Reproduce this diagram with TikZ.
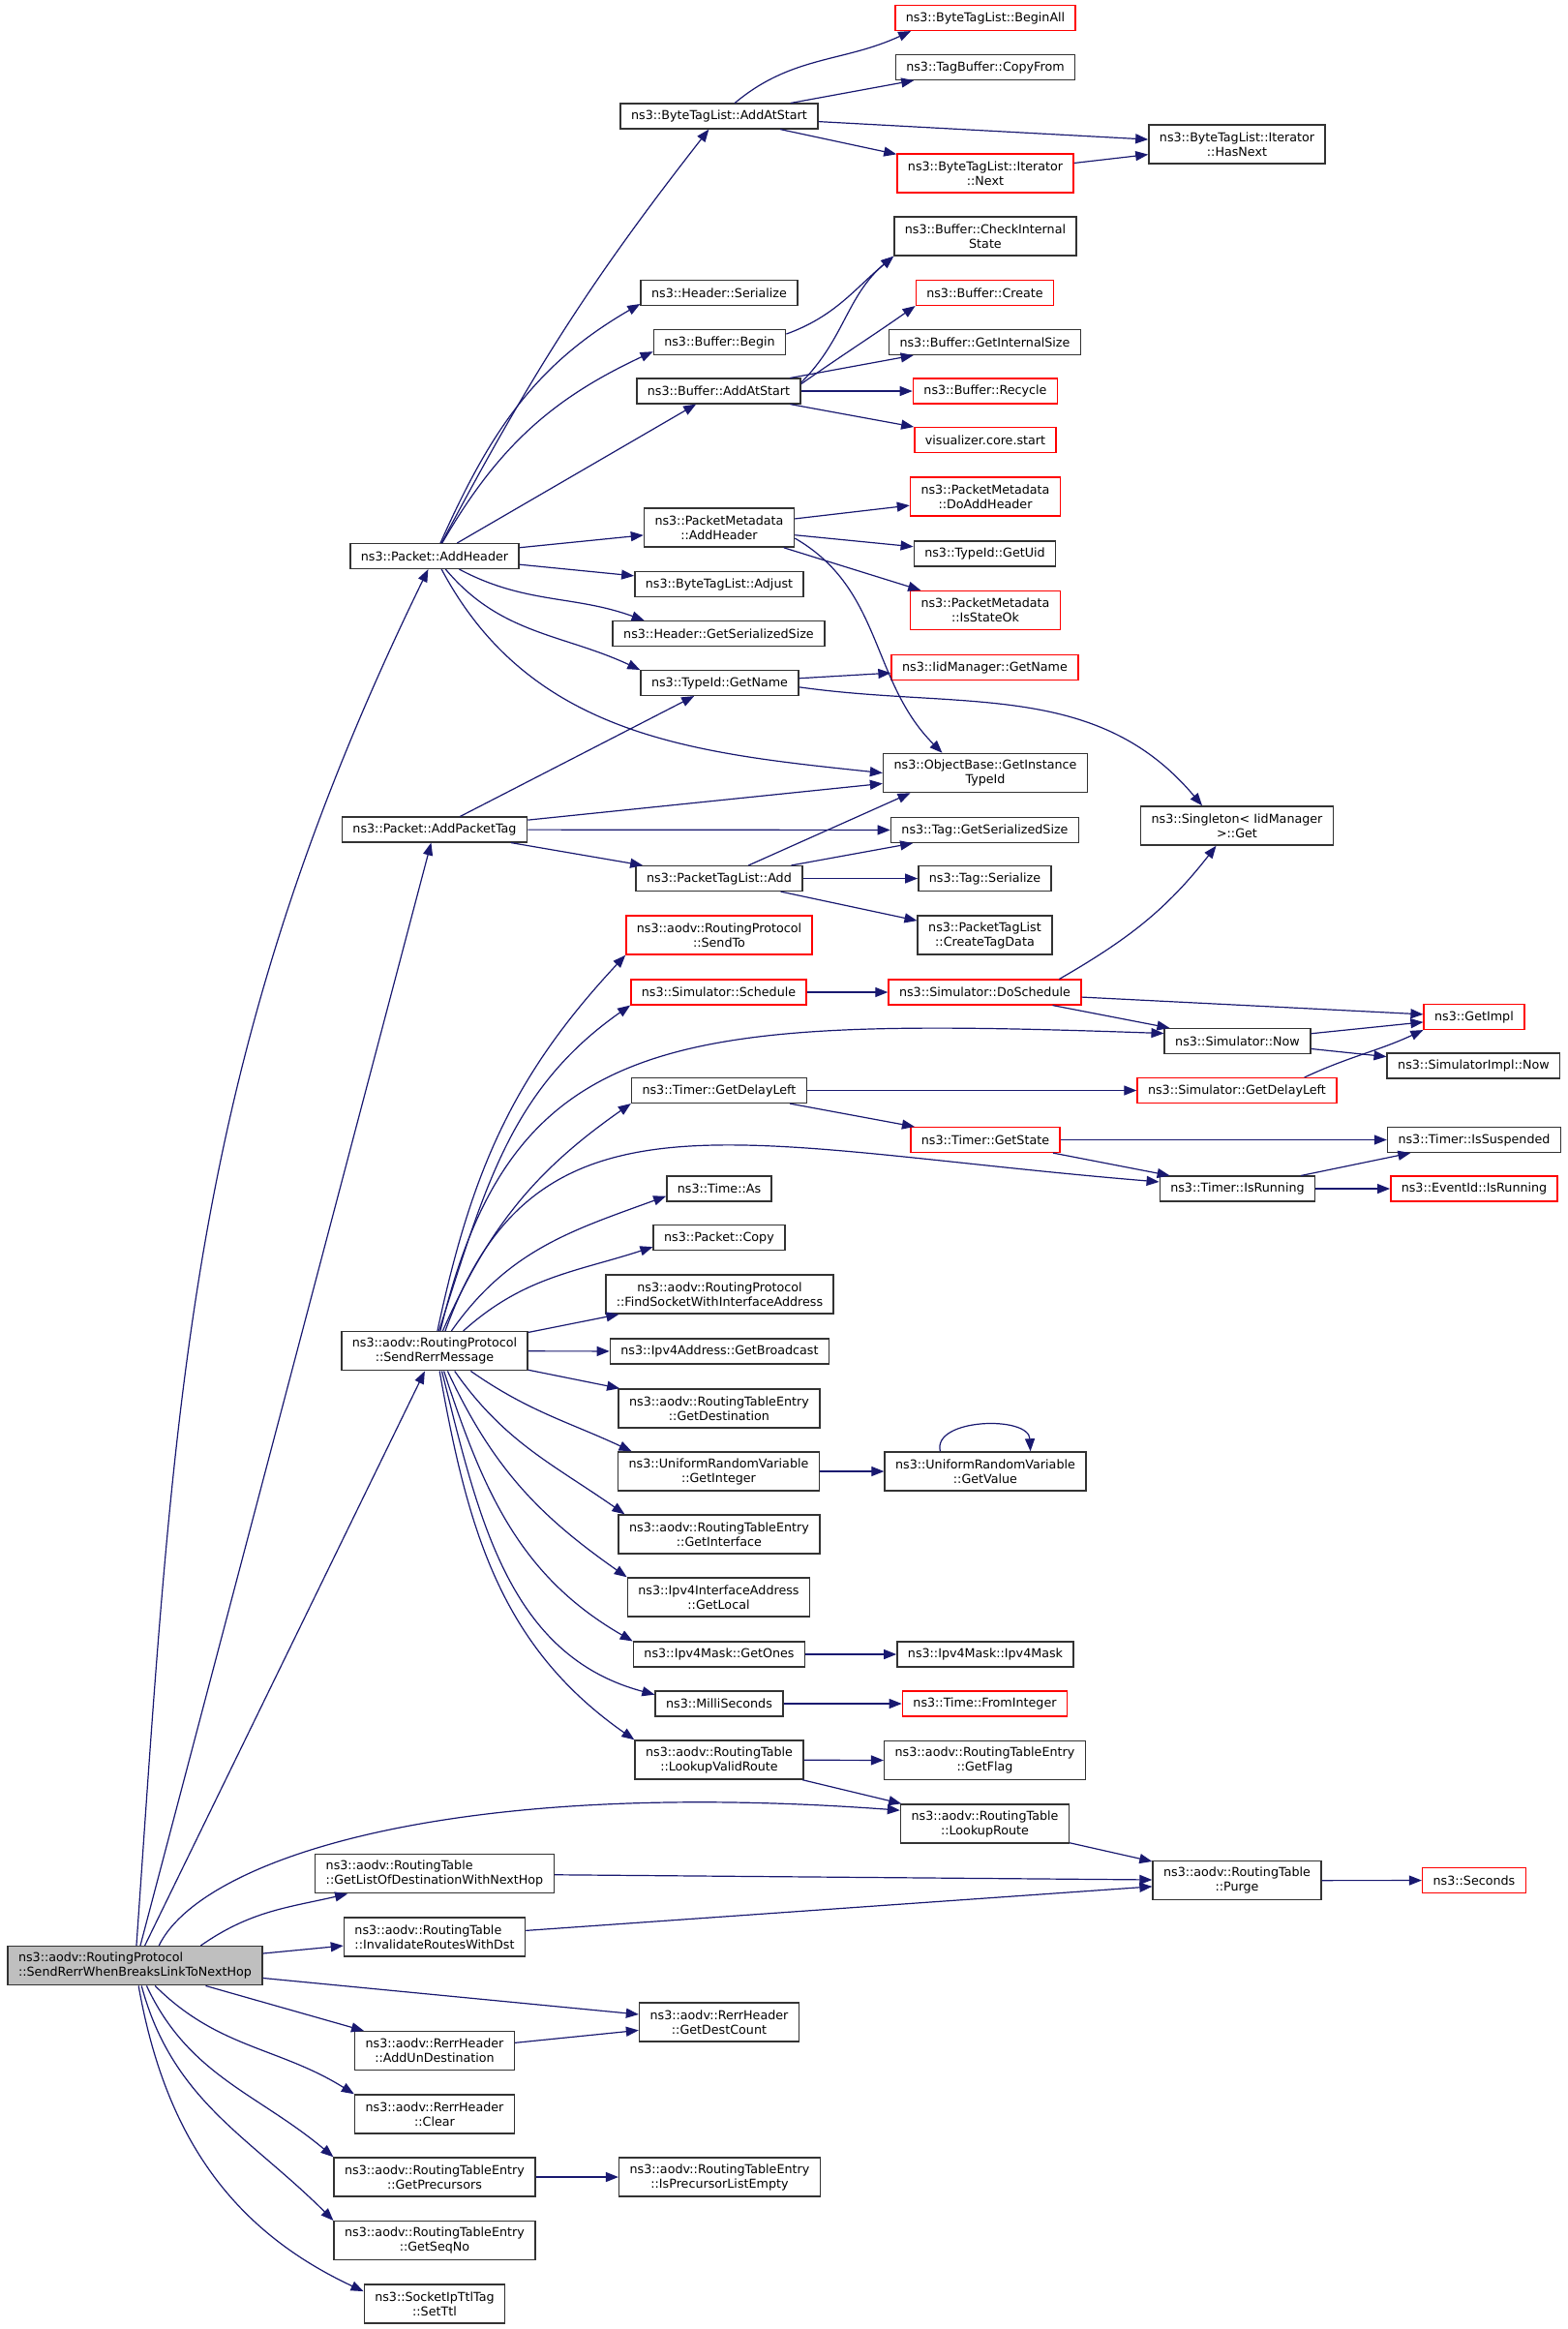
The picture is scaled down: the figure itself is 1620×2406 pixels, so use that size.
\documentclass[tikz,border=0pt]{standalone}
\usepackage{fontspec}
\setmainfont{DejaVu Sans}
\usetikzlibrary{arrows.meta}
\definecolor{edgeblue}{RGB}{25,25,112}
\definecolor{rootgray}{RGB}{191,191,191}

\begin{document}
\begin{tikzpicture}
        [x=0.1pt, y=-0.1pt,
        func/.style={rectangle, draw=black!80, fill=white, line width=0.15pt, inner xsep=1.1pt, inner ysep=0.2pt, minimum height=2.56pt, align=center, font=\fontsize{1.27}{1.5}\selectfont},
        func2/.style={func, minimum height=4pt},
        trunc/.style={draw=red},
        focus/.style={func2, fill=rootgray, align=left},
        call/.style={edgeblue, line width=0.12pt, -{Triangle[length=1.3pt, width=1pt]}}]

        \useasboundingbox (0,0) rectangle (1620,2406);

        \node[func, trunc] (beginall) at (1018,18.5) {ns3::ByteTagList::BeginAll};
        \node[func] (copyfrom) at (1018,69.5) {ns3::TagBuffer::CopyFrom};
        \node[func] (tagaddstart) at (743,120) {ns3::ByteTagList::AddAtStart};
        \node[func2] (hasnext) at (1278,149) {ns3::ByteTagList::Iterator\\::HasNext};
        \node[func2, trunc] (itnext) at (1018,179) {ns3::ByteTagList::Iterator\\::Next};
        \node[func2] (checkstate) at (1018,244) {ns3::Buffer::CheckInternal\\State};
        \node[func] (hdrser) at (743,302.5) {ns3::Header::Serialize};
        \node[func, trunc] (bufcreate) at (1017.5,302.5) {ns3::Buffer::Create};
        \node[func] (bufbegin) at (743.5,353.5) {ns3::Buffer::Begin};
        \node[func] (bufsize) at (1017.5,353.5) {ns3::Buffer::GetInternalSize};
        \node[func] (bufaddstart) at (742.5,404) {ns3::Buffer::AddAtStart};
        \node[func, trunc] (bufrecycle) at (1018,404) {ns3::Buffer::Recycle};
        \node[func, trunc] (vizstart) at (1018,454.5) {visualizer.core.start};
        \node[func2, trunc] (doaddhdr) at (1018,513) {ns3::PacketMetadata\\::DoAddHeader};
        \node[func2] (metaaddhdr) at (743,545) {ns3::PacketMetadata\\::AddHeader};
        \node[func] (addheader) at (449,574.5) {ns3::Packet::AddHeader};
        \node[func] (getuid) at (1017.5,572) {ns3::TypeId::GetUid};
        \node[func] (adjust) at (743,603.5) {ns3::ByteTagList::Adjust};
        \node[func2, trunc] (stateok) at (1018,630.5) {ns3::PacketMetadata\\::IsStateOk};
        \node[func] (hdrsize) at (742.5,654.5) {ns3::Header::GetSerializedSize};
        \node[func, trunc] (iidname) at (1017.5,689.5) {ns3::IidManager::GetName};
        \node[func] (tidname) at (743.5,705.5) {ns3::TypeId::GetName};
        \node[func2] (instid) at (1018,798.5) {ns3::ObjectBase::GetInstance\\TypeId};
        \node[func2] (singleton) at (1278,853) {ns3::Singleton< IidManager\\>::Get};
        \node[func] (addtag) at (449,857) {ns3::Packet::AddPacketTag};
        \node[func] (tagsize) at (1017.5,857.5) {ns3::Tag::GetSerializedSize};
        \node[func] (ptladd) at (743,907.5) {ns3::PacketTagList::Add};
        \node[func] (tagser) at (1017.5,907.5) {ns3::Tag::Serialize};
        \node[func2, trunc] (sendto) at (743,966) {ns3::aodv::RoutingProtocol\\::SendTo};
        \node[func2] (tagdata) at (1017.5,966) {ns3::PacketTagList\\::CreateTagData};
        \node[func, trunc] (schedule) at (742.5,1025) {ns3::Simulator::Schedule};
        \node[func, trunc] (doschedule) at (1017.5,1025) {ns3::Simulator::DoSchedule};
        \node[func, trunc] (getimpl) at (1523,1050.5) {ns3::GetImpl};
        \node[func] (simnow) at (1278.5,1075.5) {ns3::Simulator::Now};
        \node[func] (implnow) at (1522.5,1101) {ns3::SimulatorImpl::Now};
        \node[func] (tmrdelay) at (743,1126.5) {ns3::Timer::GetDelayLeft};
        \node[func, trunc] (simdelay) at (1278,1126.5) {ns3::Simulator::GetDelayLeft};
        \node[func, trunc] (tmrstate) at (1018,1177.5) {ns3::Timer::GetState};
        \node[func] (suspended) at (1523,1177.5) {ns3::Timer::IsSuspended};
        \node[func] (tmrrunning) at (1278.5,1228) {ns3::Timer::IsRunning};
        \node[func, trunc] (evrunning) at (1523,1228) {ns3::EventId::IsRunning};
        \node[func] (timeas) at (743,1228) {ns3::Time::As};
        \node[func] (pktcopy) at (743,1278.5) {ns3::Packet::Copy};
        \node[func2] (findsock) at (743.5,1337) {ns3::aodv::RoutingProtocol\\::FindSocketWithInterfaceAddress};
        \node[func2] (sendrerr) at (449,1395.7) {ns3::aodv::RoutingProtocol\\::SendRerrMessage};
        \node[func] (bcast) at (743.5,1396) {ns3::Ipv4Address::GetBroadcast};
        \node[func2] (getdest) at (743,1455) {ns3::aodv::RoutingTableEntry\\::GetDestination};
        \node[func2] (getint) at (742.5,1520) {ns3::UniformRandomVariable\\::GetInteger};
        \node[func2] (getval) at (1018,1520) {ns3::UniformRandomVariable\\::GetValue};
        \node[func2] (getiface) at (743,1585) {ns3::aodv::RoutingTableEntry\\::GetInterface};
        \node[func2] (getlocal) at (742.5,1650) {ns3::Ipv4InterfaceAddress\\::GetLocal};
        \node[func] (getones) at (743,1709) {ns3::Ipv4Mask::GetOnes};
        \node[func] (ipv4mask) at (1018,1709) {ns3::Ipv4Mask::Ipv4Mask};
        \node[func] (millis) at (743,1760) {ns3::MilliSeconds};
        \node[func, trunc] (fromint) at (1017.5,1760) {ns3::Time::FromInteger};
        \node[func2] (validroute) at (743,1818) {ns3::aodv::RoutingTable\\::LookupValidRoute};
        \node[func2] (getflag) at (1017.5,1818.7) {ns3::aodv::RoutingTableEntry\\::GetFlag};
        \node[func2] (lookup) at (1017.5,1884) {ns3::aodv::RoutingTable\\::LookupRoute};
        \node[func2, align=left] (getlist) at (449,1935.7) {ns3::aodv::RoutingTable\\::GetListOfDestinationWithNextHop};
        \node[func2] (purge) at (1278,1942.7) {ns3::aodv::RoutingTable\\::Purge};
        \node[func, trunc] (seconds) at (1523,1942.5) {ns3::Seconds};
        \node[func2, align=left] (invalidate) at (449,2001) {ns3::aodv::RoutingTable\\::InvalidateRoutesWithDst};
        \node[focus] (root) at (139.5,2030.7) {ns3::aodv::RoutingProtocol\\::SendRerrWhenBreaksLinkToNextHop};
        \node[func2] (destcount) at (743,2089) {ns3::aodv::RerrHeader\\::GetDestCount};
        \node[func2] (addundest) at (449,2118.7) {ns3::aodv::RerrHeader\\::AddUnDestination};
        \node[func2] (rerrclear) at (449,2184) {ns3::aodv::RerrHeader\\::Clear};
        \node[func2] (precursors) at (449,2249) {ns3::aodv::RoutingTableEntry\\::GetPrecursors};
        \node[func2] (precempty) at (743.5,2249) {ns3::aodv::RoutingTableEntry\\::IsPrecursorListEmpty};
        \node[func2] (seqno) at (449,2314.7) {ns3::aodv::RoutingTableEntry\\::GetSeqNo};
        \node[func2] (setttl) at (449,2380) {ns3::SocketIpTtlTag\\::SetTtl};

        % calls from the root function
        \draw[call] (root) to[out=86, in=244] (addheader);
        \draw[call] (root) -- (addtag);
        \draw[call] (root) -- (sendrerr);
        \draw[call] (root.40) .. controls (205,1925) and (450,1835) .. (lookup.171);
        \draw[call] (root.17) to[out=35, in=193] (getlist);
        \draw[call] (root) -- (invalidate);
        \draw[call] (root) -- (destcount);
        \draw[call] (root) -- (addundest);
        \draw[call] (root.-45) to[out=-45, in=148] (rerrclear.north west);
        \draw[call] (root.-60) to[out=-65, in=140] (precursors.north west);
        \draw[call] (root.-72) to[out=-75, in=135] (seqno.north west);
        \draw[call] (root.-80) to[out=-80, in=155] (setttl.170);

        % Packet::AddHeader
        \draw[call] (addheader) to[out=62, in=232] (tagaddstart);
        \draw[call] (addheader) to[out=66, in=210] (hdrser.188);
        \draw[call] (addheader) to[out=60, in=205] (bufbegin.188);
        \draw[call] (addheader) -- (bufaddstart);
        \draw[call] (addheader) -- (metaaddhdr);
        \draw[call] (addheader) -- (adjust);
        \draw[call] (addheader) to[out=-28, in=160] (hdrsize.170);
        \draw[call] (addheader) to[out=-50, in=155] (tidname.north west);
        \draw[call] (addheader) to[out=-62, in=174] (instid.west);

        \draw[call] (tagaddstart) to[out=40, in=205] (beginall.190);
        \draw[call] (tagaddstart) -- (copyfrom);
        \draw[call] (tagaddstart) -- (hasnext);
        \draw[call] (tagaddstart) -- (itnext);
        \draw[call] (itnext) -- (hasnext);

        \draw[call] (bufbegin.7) to[out=20, in=220] (checkstate.south west);
        \draw[call] (bufaddstart.6) to[out=45, in=220] (checkstate.south west);
        \draw[call] (bufaddstart.5) to[out=35, in=215] (bufcreate.south west);
        \draw[call] (bufaddstart) -- (bufsize);
        \draw[call] (bufaddstart) -- (bufrecycle);
        \draw[call] (bufaddstart) -- (vizstart);

        \draw[call] (metaaddhdr) -- (doaddhdr);
        \draw[call] (metaaddhdr) -- (getuid);
        \draw[call] (metaaddhdr) -- (stateok);
        \draw[call] (metaaddhdr.-8) to[out=-30, in=135] (instid.155);

        \draw[call] (tidname) -- (iidname);
        \draw[call] (tidname.-3) to[out=-8, in=130] (singleton.150);

        % Packet::AddPacketTag
        \draw[call] (addtag) -- (tidname);
        \draw[call] (addtag) -- (instid);
        \draw[call] (addtag) -- (tagsize);
        \draw[call] (addtag) -- (ptladd);
        \draw[call] (ptladd) -- (instid.195);
        \draw[call] (ptladd) -- (tagsize);
        \draw[call] (ptladd) -- (tagser);
        \draw[call] (ptladd) -- (tagdata);

        % SendRerrMessage
        \draw[call] (sendrerr.82) to[out=78, in=227] (sendto.south west);
        \draw[call] (sendrerr.78) to[out=72, in=215] (schedule.south west);
        \draw[call] (sendrerr.74) .. controls (530,1060) and (700,1050) .. (simnow.174);
        \draw[call] (sendrerr.68) to[out=66, in=215] (tmrdelay.south west);
        \draw[call] (sendrerr.62) .. controls (555,1110) and (760,1185) .. (tmrrunning.175);
        \draw[call] (sendrerr.50) to[out=55, in=200] (timeas.188);
        \draw[call] (sendrerr.35) to[out=42, in=198] (pktcopy.188);
        \draw[call] (sendrerr) -- (findsock);
        \draw[call] (sendrerr) -- (bcast);
        \draw[call] (sendrerr) -- (getdest);
        \draw[call] (sendrerr.-29) to[out=-35, in=155] (getint.167);
        \draw[call] (sendrerr.-45) to[out=-55, in=145] (getiface.168);
        \draw[call] (sendrerr.-57) to[out=-65, in=145] (getlocal.north west);
        \draw[call] (sendrerr.-65) to[out=-72, in=150] (getones.north west);
        \draw[call] (sendrerr.-70) to[out=-76, in=165] (millis.172);
        \draw[call] (sendrerr.-76) to[out=-80, in=145] (validroute.north west);

        \draw[call] (schedule) -- (doschedule);
        \draw[call] (doschedule.10) to[out=30, in=232] (singleton.224);
        \draw[call] (doschedule) -- (getimpl);
        \draw[call] (doschedule) -- (simnow);
        \draw[call] (simnow) -- (getimpl);
        \draw[call] (simnow) -- (implnow);
        \draw[call] (simdelay.11) to[out=25, in=205] (getimpl.south west);
        \draw[call] (tmrdelay) -- (simdelay);
        \draw[call] (tmrdelay) -- (tmrstate);
        \draw[call] (tmrstate) -- (suspended);
        \draw[call] (tmrstate) -- (tmrrunning);
        \draw[call] (tmrrunning) -- (suspended);
        \draw[call] (tmrrunning) -- (evrunning);

        \draw[call] (getint) -- (getval);
        \draw[call] (getval.156) .. controls (963,1465) and (1063,1462) .. (getval.24);
        \draw[call] (getones) -- (ipv4mask);
        \draw[call] (millis) -- (fromint);
        \draw[call] (validroute) -- (getflag);
        \draw[call] (validroute) -- (lookup);

        % routing table
        \draw[call] (lookup) -- (purge);
        \draw[call] (getlist) -- (purge);
        \draw[call] (invalidate) -- (purge);
        \draw[call] (purge) -- (seconds);
        \draw[call] (addundest) -- (destcount);
        \draw[call] (precursors) -- (precempty);

\end{tikzpicture}
\end{document}
